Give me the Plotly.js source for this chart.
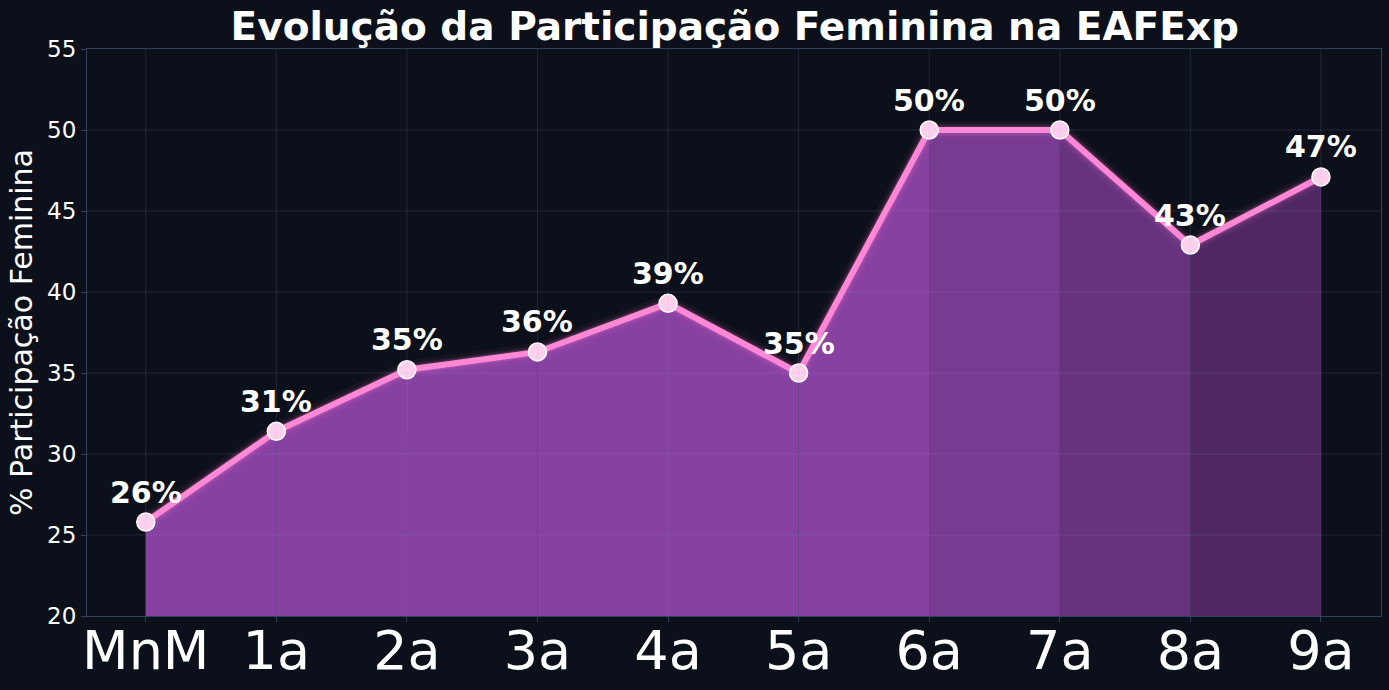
<!DOCTYPE html>
<html>
<head>
<meta charset="utf-8">
<script src="https://cdn.plot.ly/plotly-3.0.1.min.js"></script>
<style>html,body{margin:0;padding:0;background:#0c101a;}#chart{width:1389px;height:690px;}</style>
</head>
<body>
<div id="chart"></div>
<script>
const categories = ["MnM", "1a", "2a", "3a", "4a", "5a", "6a", "7a", "8a", "9a"];
const participation = [25.8, 31.4, 35.2, 36.3, 39.3, 35.0, 50.0, 50.0, 42.9, 47.1];
const yTicks = [20, 25, 30, 35, 40, 45, 50, 55];

const idx = categories.map((c, i) => i);
const segFill = ["#8741a1", "#8741a1", "#8741a1", "#8741a1", "#8741a1", "#8741a1", "#773b91", "#67337f", "#4f2862"];

const traces = [];
for (let i = 0; i < categories.length - 1; i++) {
  traces.push({
    x: [idx[i], idx[i + 1]],
    y: [participation[i], participation[i + 1]],
    type: "scatter", mode: "lines",
    line: {width: 0, color: segFill[i]},
    fill: "tozeroy", fillcolor: segFill[i],
    hoverinfo: "skip", showlegend: false
  });
}
// glow
[18, 12, 9].forEach((w, k) => {
  traces.push({
    x: idx, y: participation, type: "scatter", mode: "lines",
    line: {width: w, color: ["rgba(255,120,210,0.05)", "rgba(255,120,210,0.08)", "rgba(255,120,210,0.14)"][k]},
    hoverinfo: "skip", showlegend: false
  });
});
traces.push({
  x: idx, y: participation, type: "scatter", mode: "lines+markers",
  line: {width: 6, color: "#ff88d6"},
  marker: {size: 18, color: "#ffd0ee", line: {width: 1.5, color: "#ffffff"}},
  showlegend: false
});

const annotations = participation.map((v, i) => ({
  x: idx[i], y: v, xref: "x", yref: "y",
  text: "<b>" + Math.round(v) + "%</b>",
  showarrow: false, yshift: 30,
  font: {family: "DejaVu Sans", size: 30, color: "#ffffff"}
}));

const gridColor = "rgba(150,170,215,0.15)";
const shapes = [];
idx.forEach(i => shapes.push({type: "line", xref: "x", yref: "paper", x0: i, x1: i, y0: 0, y1: 1, layer: "above", line: {color: gridColor, width: 1}}));
yTicks.slice(1, -1).forEach(t => shapes.push({type: "line", xref: "paper", yref: "y", x0: 0, x1: 1, y0: t, y1: t, layer: "above", line: {color: gridColor, width: 1}}));

const layout = {
  width: 1389, height: 690,
  paper_bgcolor: "#0c101a", plot_bgcolor: "#0c101a",
  margin: {l: 87, r: 8, t: 49, b: 74},
  title: {text: "<b>Evolução da Participação Feminina na EAFExp</b>", x: 0.529, xanchor: "center", y: 0.962, yanchor: "middle",
    font: {family: "DejaVu Sans", size: 39, color: "#ffffff"}},
  xaxis: {
    range: [-0.45, 9.46], tickvals: idx, ticktext: categories,
    tickfont: {family: "DejaVu Sans", size: 54, color: "#ffffff"},
    ticklabelstandoff: -18,
    showgrid: false,
    showline: true, linecolor: "#34405a", linewidth: 1, mirror: true,
    ticks: "outside", ticklen: 5, tickcolor: "#34405a", zeroline: false
  },
  yaxis: {
    range: [20, 55], tickvals: yTicks,
    tickfont: {family: "DejaVu Sans", size: 23, color: "#ffffff"},
    showgrid: false,
    showline: true, linecolor: "#34405a", linewidth: 1, mirror: true,
    ticks: "outside", ticklen: 5, tickcolor: "#34405a", zeroline: false,
    title: {text: "% Participação Feminina", font: {family: "DejaVu Sans", size: 30, color: "#ffffff"}, standoff: 5}
  },
  shapes: shapes,
  annotations: annotations
};

Plotly.newPlot("chart", traces, layout, {displayModeBar: false, staticPlot: true});
</script>
</body>
</html>
